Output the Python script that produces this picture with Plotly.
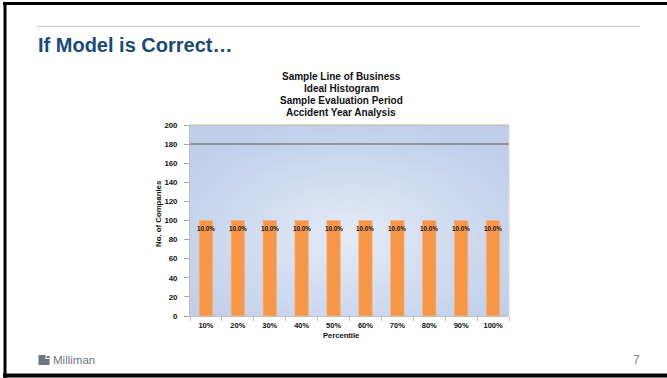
import numpy as np
import plotly.graph_objects as go

# ---- data ----
percentiles = ["10%", "20%", "30%", "40%", "50%", "60%", "70%", "80%", "90%", "100%"]
companies = [100, 100, 100, 100, 100, 100, 100, 100, 100, 100]
reference_level = 180
y_ticks = [0, 20, 40, 60, 80, 100, 120, 140, 160, 180, 200]

chart_titles = ["Sample Line of Business", "Ideal Histogram",
                "Sample Evaluation Period", "Accident Year Analysis"]
slide_title = "If Model is Correct\u2026"
page_number = "7"

# share of companies in each percentile bucket
total = sum(companies)
bar_labels = [f"{v / total * 100:.1f}%" for v in companies]

# ---- page geometry (pixels) ----
W, H = 667, 378
L, R, T, B = 190, 509, 125, 316
PW, PH = R - L, B - T


def px(x):
    return (x - L) / PW


def py(y):
    return (B - y) / PH


FONT = "Liberation Sans, Arial, sans-serif"
ORANGE = "#F79646"

fig = go.Figure()

# soft radial shading behind the bars
gx = np.linspace(0, 1, 80)
gy = np.linspace(0, 1, 80)
XX, YY = np.meshgrid(gx, gy)
dist = np.sqrt(((XX - 0.5) / 0.62) ** 2 + ((YY - 0.42) / 0.62) ** 2)
dist = np.clip(dist, 0, 1)
fig.add_trace(go.Heatmap(
    x=gx, y=gy, z=dist, zmin=0, zmax=1, zsmooth="best",
    colorscale=[[0, "#E5EBF6"], [0.5, "#D1DDF0"], [1, "#BFCFEA"]],
    showscale=False, hoverinfo="skip", xaxis="x", yaxis="y",
))

fig.add_trace(go.Bar(
    x=percentiles, y=companies, xaxis="x2", yaxis="y2",
    marker=dict(color=ORANGE, line=dict(color="#F9B27A", width=0.8)),
    width=0.42, hoverinfo="x+y",
))

annotations = []
for cat, val, lab in zip(percentiles, companies, bar_labels):
    annotations.append(dict(
        x=cat, y=val, xref="x2", yref="y2", text=lab, showarrow=False,
        yanchor="middle", yshift=-8,
        font=dict(family=FONT, size=6.3, color="#1a1a1a", weight="bold"),
    ))

# chart title lines
for i, line in enumerate(chart_titles):
    annotations.append(dict(
        x=px(341), y=py(76 + i * 12.3), xref="paper", yref="paper",
        text=line, showarrow=False, xanchor="center", yanchor="middle",
        font=dict(family=FONT, size=10, color="#111111", weight="bold"),
    ))

# axis titles
annotations.append(dict(
    x=px(158), y=py(214), xref="paper", yref="paper", text="No. of Companies",
    textangle=-90, showarrow=False, xanchor="center", yanchor="middle",
    font=dict(family=FONT, size=7.8, color="#111111", weight="bold"),
))
annotations.append(dict(
    x=px(341), y=py(335), xref="paper", yref="paper", text="Percentile",
    showarrow=False, xanchor="center", yanchor="middle",
    font=dict(family=FONT, size=7.6, color="#111111", weight="bold"),
))

# slide heading, footer and page number
annotations.append(dict(
    x=px(36), y=py(45), xref="paper", yref="paper", text=slide_title,
    showarrow=False, xanchor="left", yanchor="middle",
    font=dict(family=FONT, size=20, color="#184B78", weight="bold"),
))
annotations.append(dict(
    x=px(51), y=py(360), xref="paper", yref="paper", text="Milliman",
    showarrow=False, xanchor="left", yanchor="middle",
    font=dict(family=FONT, size=11.5, color="#6E7780"),
))
annotations.append(dict(
    x=px(636), y=py(360), xref="paper", yref="paper", text=page_number,
    showarrow=False, xanchor="center", yanchor="middle",
    font=dict(family=FONT, size=12, color="#7F8890"),
))

shapes = [
    # reference level across the plot
    dict(type="line", xref="paper", yref="y2", x0=0, x1=1,
         y0=reference_level, y1=reference_level,
         line=dict(color="#7F7F7F", width=1.5)),
    # top edge of the plot area
    dict(type="line", xref="paper", yref="paper", x0=0, x1=1, y0=1, y1=1,
         line=dict(color="#C9BA8C", width=1)),
    # right edge of the plot area
    dict(type="line", xref="paper", yref="paper", x0=1, x1=1, y0=0, y1=1,
         line=dict(color="#D9D9D9", width=1)),
    # slide rule under the heading
    dict(type="line", xref="paper", yref="paper", x0=px(37), x1=px(640),
         y0=py(26.5), y1=py(26.5), line=dict(color="#C3C3C3", width=1)),
    # slide frame
    dict(type="line", xref="paper", yref="paper", x0=px(5), x1=px(5),
         y0=py(2), y1=py(378), line=dict(color="#000000", width=3)),
    dict(type="line", xref="paper", yref="paper", x0=px(3), x1=px(667),
         y0=py(3.5), y1=py(3.5), line=dict(color="#000000", width=3)),
    dict(type="line", xref="paper", yref="paper", x0=px(3), x1=px(667),
         y0=py(375.5), y1=py(375.5), line=dict(color="#000000", width=4)),
    # logo mark
    dict(type="rect", xref="paper", yref="paper", x0=px(38.5), x1=px(49.5),
         y0=py(365), y1=py(355), fillcolor="#6E7780", line=dict(width=0)),
    dict(type="rect", xref="paper", yref="paper", x0=px(45.5), x1=px(49.5),
         y0=py(359), y1=py(355), fillcolor="#FFFFFF", line=dict(width=0)),
    dict(type="rect", xref="paper", yref="paper", x0=px(46.5), x1=px(49.5),
         y0=py(358), y1=py(356), fillcolor="#6E7780", line=dict(width=0)),
]

x_tick_font = dict(family=FONT, size=7.5, color="#111111", weight="bold")
y_tick_font = dict(family=FONT, size=7.8, color="#111111", weight="bold")

fig.update_layout(
    width=W, height=H, autosize=False,
    margin=dict(l=L, r=W - R, t=T, b=H - B, pad=0),
    paper_bgcolor="white", plot_bgcolor="rgba(0,0,0,0)",
    showlegend=False,
    xaxis=dict(range=[0, 1], visible=False, fixedrange=True),
    yaxis=dict(range=[0, 1], visible=False, fixedrange=True),
    xaxis2=dict(
        overlaying="x", anchor="y2", type="category",
        categoryorder="array", categoryarray=percentiles,
        range=[-0.5, len(percentiles) - 0.5],
        showgrid=False, zeroline=False,
        showline=True, linecolor="#BFBFBF", linewidth=1,
        ticks="outside", ticklen=4, tickcolor="#BFBFBF",
        tickson="boundaries", tickfont=x_tick_font, ticklabelstandoff=2,
    ),
    yaxis2=dict(
        overlaying="y", anchor="x2", range=[0, 200],
        tickvals=y_ticks, showgrid=False, zeroline=False,
        showline=True, linecolor="#BFBFBF", linewidth=1,
        ticks="outside", ticklen=5, tickcolor="#A6A6A6",
        tickfont=y_tick_font, ticklabelstandoff=5,
    ),
    annotations=annotations,
    shapes=shapes,
)

fig.write_html("out.html")
